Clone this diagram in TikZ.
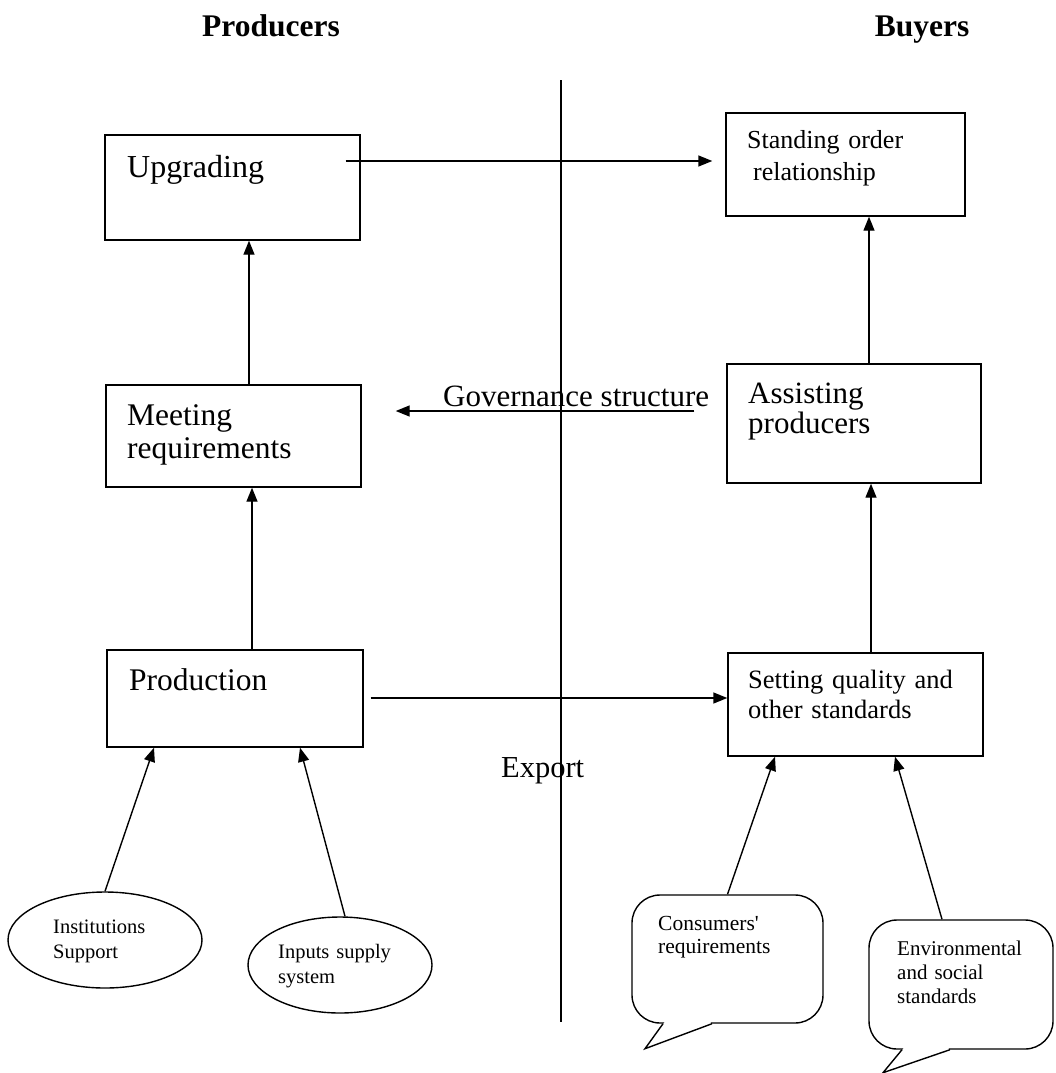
\documentclass[tikz,border=0pt]{standalone}
\usepackage{fontspec}
\setmainfont{Liberation Serif}
\usetikzlibrary{arrows.meta,shapes.geometric}

\begin{document}
\begin{tikzpicture}[x=1pt,y=-1pt]

  % ── Styles ────────────────────────────────────────────────
  \tikzset{
    blockbox/.style  = {draw, line width=1.4pt, inner sep=0pt},
    bubblebox/.style = {draw, line width=1.4pt, rounded corners=28pt, inner sep=0pt},
    ovalnode/.style  = {draw, ellipse, line width=1.4pt, inner sep=0pt},
    labeltext/.style = {anchor=base west, inner sep=0pt, align=left},
    flowarrow/.style = {line width=1.4pt, -{Triangle[length=14pt,width=11pt]}},
    plainline/.style = {line width=1.4pt}
  }

  \useasboundingbox (0,0) rectangle (1055,1073);

  % =========================================================
  % 1. TITLES AND DIVIDING LINE
  % =========================================================
  \node[anchor=base, inner sep=0pt, font=\fontsize{31.5}{36}\selectfont\bfseries] (producers) at (271,37) {Producers};
  \node[anchor=base, inner sep=0pt, font=\fontsize{31.5}{36}\selectfont\bfseries] (buyers) at (922,37) {Buyers};

  \coordinate (divtop) at (561,80);
  \coordinate (divbot) at (561,1022);
  \draw[plainline] (divtop) -- (divbot);

  % =========================================================
  % 2. PRODUCERS (left column)
  % =========================================================
  \node[blockbox, minimum width=255, minimum height=105] (upg)  at (232.5,187.5) {};
  \node[blockbox, minimum width=255, minimum height=102] (meet) at (233.5,436) {};
  \node[blockbox, minimum width=256, minimum height=97]  (prod) at (235,698.5) {};

  \node[labeltext, text width=220pt, font=\fontsize{32}{38}\selectfont] (upgtext) at (127,177) {Upgrading};
  \node[labeltext, text width=220pt, font=\fontsize{31.5}{33}\selectfont] (meettext) at (127,425) {Meeting\\requirements};
  \node[labeltext, text width=220pt, font=\fontsize{31.5}{36}\selectfont] (prodtext) at (129,690) {Production};

  % Support ovals under production
  \node[ovalnode, minimum width=194, minimum height=96] (inst) at (105,940) {};
  \node[ovalnode, minimum width=184, minimum height=96] (inp)  at (340,965) {};
  \node[labeltext, text width=130pt, font=\fontsize{20.5}{25}\selectfont] (insttext) at (53,933) {Institutions\\Support};
  \node[labeltext, text width=140pt, font=\fontsize{20.5}{25}\selectfont] (inptext) at (278,958) {Inputs supply\\system};

  % =========================================================
  % 3. BUYERS (right column)
  % =========================================================
  \node[blockbox, minimum width=239, minimum height=103] (sor)  at (845.5,164.5) {};
  \node[blockbox, minimum width=254, minimum height=119] (asst) at (854,423.5) {};
  \node[blockbox, minimum width=255, minimum height=103] (setq) at (855.5,704.5) {};

  \node[labeltext, text width=210pt, font=\fontsize{26}{32}\selectfont] (sortext) at (747,148) {Standing order\\\hspace*{6pt}relationship};
  \node[labeltext, text width=220pt, font=\fontsize{31}{30}\selectfont] (assttext) at (748,403) {Assisting\\producers};
  \node[labeltext, text width=230pt, font=\fontsize{26.5}{30}\selectfont] (setqtext) at (748,688) {Setting quality and\\other standards};

  % Speech bubbles under the standards box
  \node[bubblebox, minimum width=191, minimum height=128] (cons) at (727.5,959) {};
  \node[bubblebox, minimum width=184, minimum height=129] (env)  at (961,984.5) {};
  \node[labeltext, text width=160pt, font=\fontsize{21.5}{23}\selectfont] (constext) at (658,930) {Consumers\textquotesingle\\requirements};
  \node[labeltext, text width=150pt, font=\fontsize{21}{24}\selectfont] (envtext) at (897,955) {Environmental\\and social\\standards};

  % Bubble tails (cover the bottom edge, then draw the two sides)
  \fill[white] ([shift={(-63,-1.5)}]cons.south) -- ([shift={(-17,-1.5)}]cons.south)
    -- ([shift={(-15.5,1)}]cons.south) -- ([shift={(-82.5,25)}]cons.south)
    -- ([shift={(-64.5,1)}]cons.south) -- cycle;
  \draw[plainline, line join=miter] ([xshift=-64.5]cons.south) -- ([shift={(-82.5,25)}]cons.south) -- ([xshift=-15.5]cons.south);

  \fill[white] ([shift={(-57.5,-1.5)}]env.south) -- ([shift={(-12.5,-1.5)}]env.south)
    -- ([shift={(-11,1)}]env.south) -- ([shift={(-78,23)}]env.south)
    -- ([shift={(-59,1)}]env.south) -- cycle;
  \draw[plainline, line join=miter] ([xshift=-59]env.south) -- ([shift={(-78,23)}]env.south) -- ([xshift=-11]env.south);

  % =========================================================
  % 4. CONNECTORS
  % =========================================================
  \draw[flowarrow] ([shift={(-15,-26.5)}]upg.east) -- ([shift={(-13,-3.5)}]sor.west);
  \draw[flowarrow] ([xshift=15.5]meet.north) -- ([xshift=15.5]meet.north |- upg.south);
  \draw[flowarrow] ([xshift=17]prod.north) -- ([xshift=17]prod.north |- meet.south);
  \draw[flowarrow] ([xshift=15]asst.north) -- ([xshift=15]asst.north |- sor.south);
  \draw[flowarrow] ([xshift=15.5]setq.north) -- ([xshift=15.5]setq.north |- asst.south);
  \draw[flowarrow] ([shift={(7,-0.5)}]prod.east) -- ([yshift=0.5pt]prod.east -| setq.west);

  % Governance structure (right to left)
  \draw[flowarrow] ([shift={(-32,-12.5)}]asst.west) -- ([shift={(34,-25)}]meet.east);
  \node[labeltext, font=\fontsize{31}{36}\selectfont] (govtext) at (443,406) {Governance structure};
  \node[labeltext, font=\fontsize{30.5}{36}\selectfont] (exptext) at (501,777) {Export};

  % Inputs into production and standards
  \draw[flowarrow] (inst.north) -- ([xshift=-81]prod.south);
  \draw[flowarrow] ([xshift=5]inp.north) -- ([xshift=65]prod.south);
  \draw[flowarrow] (cons.north) -- ([xshift=-80.5]setq.south);
  \draw[flowarrow] ([xshift=-19]env.north) -- ([xshift=39.5]setq.south);

\end{tikzpicture}
\end{document}
